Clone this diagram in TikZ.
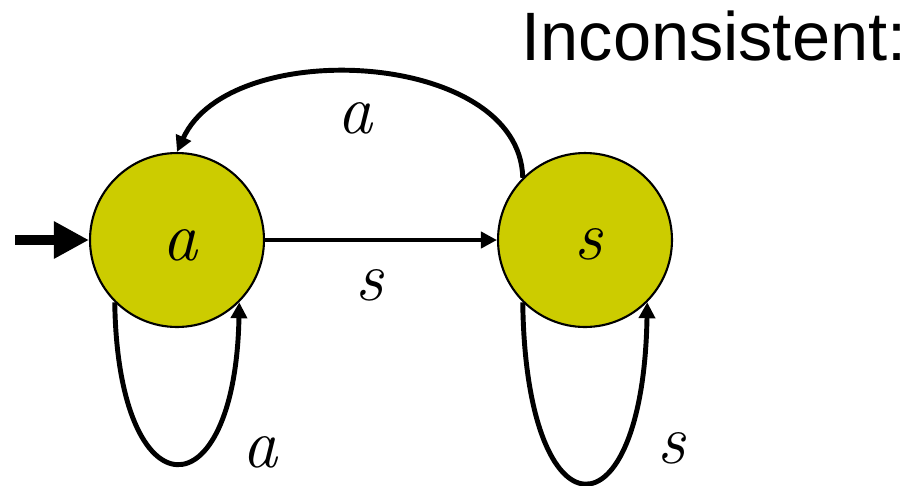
\documentclass[tikz,border=0pt]{standalone}
\usepackage{fontspec}
\newfontfamily\titlefont{Liberation Sans}
\usetikzlibrary{arrows.meta}
\definecolor{stateyellow}{RGB}{204,204,0}
\tikzset{
  state/.style={circle, draw=black, line width=1.2pt, fill=stateyellow, minimum size=3.48cm, inner sep=0pt},
  edge/.style={line width=2.8pt, -{Triangle[length=0.32cm,width=0.32cm]}},
  lbl/.style={font=\fontsize{40}{44}\selectfont\itshape, inner sep=0pt}
}
\begin{document}
\begin{tikzpicture}[x=0.02cm, y=-0.02cm]

\useasboundingbox (0,0) rectangle (919,485);

\node[state] (a) at (177,240) {};
\node[state] (s) at (585,240) {};

\node[lbl] (la) at (180,245) {a};
\node[lbl] (ls) at (589,244) {s};

\node[font=\titlefont\fontsize{39}{42}\selectfont, inner sep=0pt] (title) at (714,36) {Inconsistent:};

% start arrow
\coordinate (init) at (15,240);
\draw[line width=5.6pt, -{Triangle[length=0.7cm,width=0.7cm]}] (init) -- (a.west);

\draw[edge] (a) -- (s);
\draw[edge] (s.135) .. controls (520,50) and (230,35) .. (a.90);
\draw[edge] (a.225) .. controls +(3,214) and +(-4,214) .. (a.315);
\draw[edge] (s.225) .. controls +(3,240) and +(-4,240) .. (s.315);

\node[lbl] (eas) at (370,285) {s};
\node[lbl] (esa) at (355,118) {a};
\node[lbl] (eaa) at (260,452) {a};
\node[lbl] (ess) at (672,448) {s};

\end{tikzpicture}
\end{document}
